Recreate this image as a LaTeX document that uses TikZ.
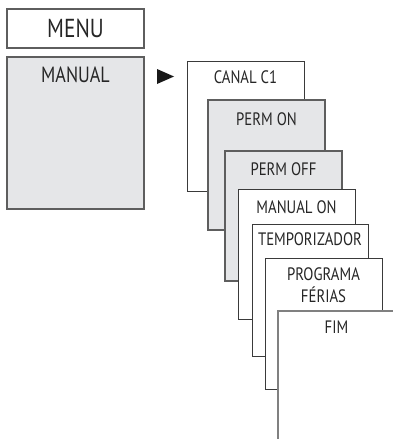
\documentclass[tikz,border=0pt]{standalone}
\usepackage{fontspec}
\setmainfont{PT Sans}[FakeStretch=0.82]
\usetikzlibrary{positioning}
\definecolor{boxgrey}{HTML}{E5E6E8}
\definecolor{edge}{HTML}{3A3A3A}
\definecolor{edgegrey}{HTML}{5E5E5E}
\definecolor{fimedge}{HTML}{808080}
\tikzset{
  box/.style={draw=edge, line width=1pt, fill=white, anchor=north west, inner sep=0pt, outer sep=0pt, minimum width=117pt, minimum height=130pt},
  gbox/.style={box, draw=edgegrey, line width=1.1pt, fill=boxgrey},
  lbl/.style={font=\fontsize{18}{22}\selectfont, text=black!85, inner sep=0pt, align=center},
  big/.style={font=\fontsize{26}{30}\selectfont, text=black!85, inner sep=0pt},
  mid/.style={font=\fontsize{22}{26}\selectfont, text=black!85, inner sep=0pt}
}
\begin{document}
\begin{tikzpicture}[x=1pt,y=-1pt]
\useasboundingbox (0,0) rectangle (393,439);
\clip (0,0) rectangle (393,439);
% left column
\node[box, draw=edgegrey, line width=1.1pt, minimum width=137pt, minimum height=39pt] (menu) at (7,9) {};
\node[big] (menut) at (menu.center) {MENU};
\node[gbox, minimum width=137pt, minimum height=152pt] (manual) at (7,57) {};
\node[mid] (manualt) at ([yshift=-18pt]manual.north) {MANUAL};
\fill[black!90] (157,69) -- (174,76.5) -- (157,84) -- cycle;
% stack
\node[box] (c1) at (187,61) {};
\node[lbl] (c1t) at ([yshift=-16.5pt]c1.north) {CANAL C1};
\node[gbox] (pon) at (208,100) {};
\node[lbl] (pont) at ([yshift=-19pt]pon.north) {PERM ON};
\node[gbox] (poff) at (225,151) {};
\node[lbl] (pofft) at ([yshift=-18pt]poff.north) {PERM OFF};
\node[box] (mon) at (238,189) {};
\node[lbl] (mont) at ([yshift=-18.5pt]mon.north) {MANUAL ON};
\node[box, minimum width=116pt, minimum height=132pt] (tmp) at (252,224) {};
\node[lbl] (tmpt) at ([yshift=-15pt]tmp.north) {TEMPORIZADOR};
\node[box, minimum height=131pt] (prg) at (265,258) {};
\node[lbl, anchor=north] (prgt) at ([yshift=-9pt]prg.north) {PROGRAMA\\FÉRIAS};
\node[box, draw=fimedge, line width=1.2pt] (fim) at (278,311) {};
\node[lbl] (fimt) at ([yshift=-16.5pt]fim.north) {FIM};
\end{tikzpicture}
\end{document}
